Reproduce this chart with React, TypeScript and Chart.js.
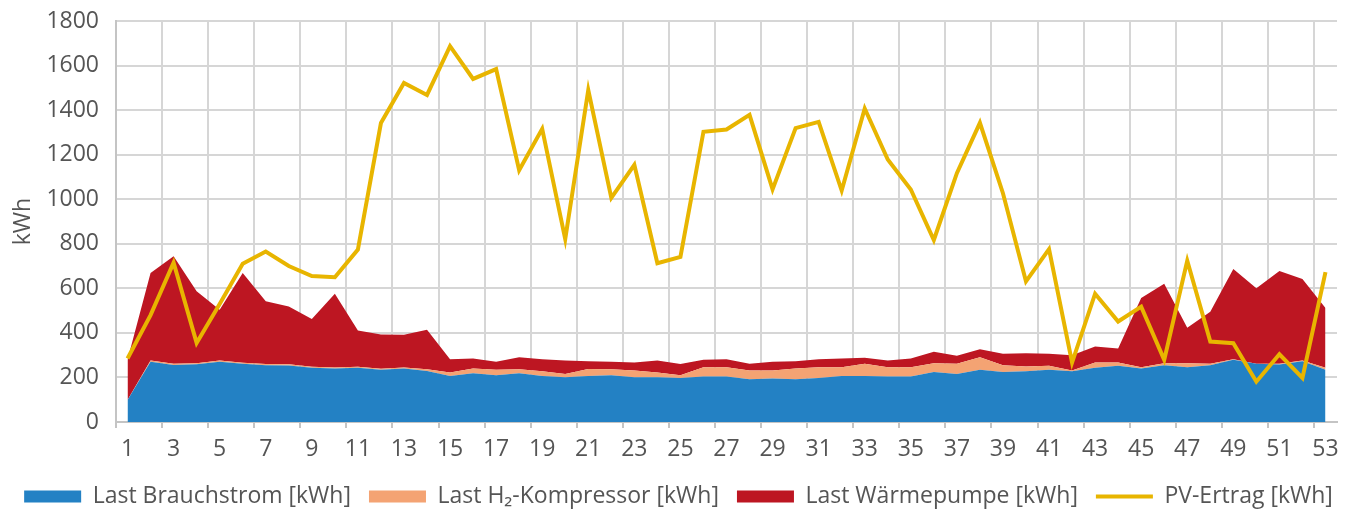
import React, { useEffect, useRef } from "react";
import { Chart, registerables } from "chart.js";

Chart.register(...registerables);

const weeks = [
  "1", "2", "3", "4", "5", "6", "7", "8", "9", "10",
  "11", "12", "13", "14", "15", "16", "17", "18", "19", "20",
  "21", "22", "23", "24", "25", "26", "27", "28", "29", "30",
  "31", "32", "33", "34", "35", "36", "37", "38", "39", "40",
  "41", "42", "43", "44", "45", "46", "47", "48", "49", "50",
  "51", "52", "53",
];

const brauchstrom = [
  99, 271, 256, 259, 271, 261, 255, 254, 243, 240,
  243, 234, 240, 229, 207, 219, 210, 219, 207, 201,
  207, 210, 201, 201, 198, 204, 204, 192, 195, 192,
  198, 207, 207, 204, 204, 225, 216, 234, 225, 228,
  234, 228, 243, 252, 240, 255, 246, 255, 279, 261,
  258, 273, 234,
];

const h2Kompressor = [
  0, 5, 5, 5, 5, 5, 5, 5, 5, 5,
  5, 5, 5, 8, 15, 21, 24, 18, 21, 15,
  31, 27, 30, 21, 12, 42, 42, 39, 36, 48,
  48, 39, 54, 42, 42, 39, 45, 57, 30, 21,
  18, 3, 24, 15, 6, 9, 18, 6, 3, 0,
  3, 3, 9,
];

const waermepumpe = [
  180, 393, 483, 323, 228, 403, 282, 260, 214, 331,
  163, 154, 147, 177, 60, 45, 36, 54, 54, 60,
  35, 34, 36, 54, 50, 33, 36, 30, 39, 33,
  36, 39, 27, 30, 39, 51, 36, 36, 51, 60,
  54, 69, 72, 63, 311, 357, 159, 234, 405, 339,
  417, 366, 269,
];

const pvErtrag = [
  285, 480, 715, 355, 530, 710, 765, 700, 655, 650,
  774, 1342, 1522, 1468, 1687, 1540, 1584, 1130, 1316, 821,
  1490, 1006, 1154, 713, 741, 1303, 1313, 1379, 1044, 1319,
  1347, 1039, 1407, 1178, 1044, 817, 1117, 1343, 1027, 631,
  776, 267, 576, 451, 518, 279, 724, 361, 354, 181,
  304, 198, 673,
];

const yTicks = [0, 200, 400, 600, 800, 1000, 1200, 1400, 1600, 1800];

const FONT = '"Open Sans", "Noto Sans", sans-serif';
const TEXT = "#555555";
const GRID = "#d6d6d6";
const AXIS = "#c4c4c4";

export default function App() {
  const ref = useRef<HTMLCanvasElement | null>(null);

  useEffect(() => {
    if (!ref.current) return;
    const chart = new Chart(ref.current, {
      type: "line",
      data: {
        labels: weeks,
        datasets: [
          {
            label: "Last Brauchstrom [kWh]",
            data: brauchstrom,
            backgroundColor: "#2381c4",
            borderColor: "#2381c4",
            borderWidth: 0,
            fill: "origin",
            pointRadius: 0,
            pointStyle: "rect",
            stack: "load",
            order: 1,
          },
          {
            label: "Last H\u2082-Kompressor [kWh]",
            data: h2Kompressor,
            backgroundColor: "#f4a373",
            borderColor: "#f4a373",
            borderWidth: 0,
            fill: "-1",
            pointRadius: 0,
            pointStyle: "rect",
            stack: "load",
            order: 1,
          },
          {
            label: "Last Wärmepumpe [kWh]",
            data: waermepumpe,
            backgroundColor: "#bd1622",
            borderColor: "#bd1622",
            borderWidth: 0,
            fill: "-1",
            pointRadius: 0,
            pointStyle: "rect",
            stack: "load",
            order: 1,
          },
          {
            label: "PV-Ertrag [kWh]",
            data: pvErtrag,
            backgroundColor: "#e8b500",
            borderColor: "#e8b500",
            borderWidth: 4,
            fill: false,
            pointRadius: 0,
            pointStyle: "line",
            stack: "pv",
            order: 0,
            borderJoinStyle: "miter",
          },
        ],
      },
      options: {
        responsive: false,
        animation: false,
        layout: { padding: { top: 21, right: 0, bottom: 0, left: 0 } },
        plugins: {
          tooltip: { enabled: false },
          legend: {
            position: "bottom",
            labels: {
              usePointStyle: true,
              pointStyleWidth: 57,
              boxHeight: 12,
              padding: 18,
              color: TEXT,
              font: { family: FONT, size: 23 },
              sort: (a: any, b: any) => a.datasetIndex - b.datasetIndex,
            },
          },
        },
        scales: {
          x: {
            stacked: true,
            offset: true,
            afterFit: (scale: any) => {
              scale.height = 45;
            },
            grid: {
              offset: true,
              drawOnChartArea: true,
              lineWidth: 2,
              tickLength: 6,
              color: (ctx: any) =>
                ctx.index % 2 === 0 && ctx.index < weeks.length ? GRID : "rgba(0,0,0,0)",
              tickColor: (ctx: any) =>
                ctx.index % 2 === 0 && ctx.index < weeks.length ? AXIS : "rgba(0,0,0,0)",
            },
            border: { display: true, color: AXIS, width: 2 },
            ticks: {
              autoSkip: false,
              maxRotation: 0,
              minRotation: 0,
              padding: 8,
              color: TEXT,
              font: { family: FONT, size: 23 },
              callback: (_v: any, i: number) => (i % 2 === 0 ? weeks[i] : ""),
            },
          },
          y: {
            stacked: true,
            min: yTicks[0],
            max: yTicks[yTicks.length - 1],
            afterFit: (scale: any) => {
              scale.width = 116;
              scale.paddingTop = 0;
              scale.paddingBottom = 0;
            },
            afterBuildTicks: (scale: any) => {
              scale.ticks = yTicks.map((v) => ({ value: v }));
            },
            grid: { color: GRID, lineWidth: 2, drawTicks: false },
            border: { display: true, color: AXIS, width: 2 },
            ticks: {
              padding: 17,
              color: TEXT,
              font: { family: FONT, size: 23 },
              callback: (v: any) => String(v),
            },
            title: {
              display: true,
              text: "kWh",
              color: TEXT,
              font: { family: FONT, size: 23 },
              padding: { top: 10, bottom: 0 },
            },
          },
          spacer: {
            type: "linear",
            position: "right",
            display: true,
            afterFit: (scale: any) => {
              scale.width = 20;
            },
            grid: { display: false, drawTicks: false },
            border: { display: false },
            ticks: { display: false },
          },
        },
      },
    });
    return () => chart.destroy();
  }, []);

  return (
    <div style={{ width: 1357, height: 518 }}>
      <style>{`body{margin:0}`}</style>
      <canvas ref={ref} width={1357} height={518} style={{ display: "block" }} />
    </div>
  );
}
